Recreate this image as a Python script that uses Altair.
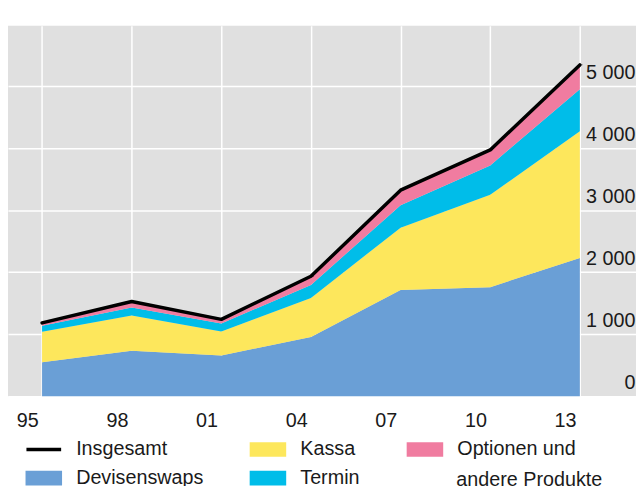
import altair as alt
import pandas as pd

years = [1995, 1998, 2001, 2004, 2007, 2010, 2013]
devisenswaps = [546, 734, 656, 954, 1714, 1759, 2228]
kassa = [494, 568, 386, 631, 1005, 1489, 2046]
termin = [97, 128, 130, 209, 362, 475, 680]
optionen = [45, 97, 67, 140, 243, 250, 391]
insgesamt = [1182, 1527, 1239, 1934, 3324, 3973, 5345]

stack_series = ["Devisenswaps", "Kassa", "Termin", "Optionen und andere Produkte"]
stack_values = [devisenswaps, kassa, termin, optionen]

legend_order = ["Insgesamt", "Kassa", "Optionen und andere Produkte", "Devisenswaps", "Termin"]
legend_colors = ["#000000", "#fde75c", "#f07ca0", "#6a9fd6", "#00bde9"]
LINE_SYM = "M-0.9,-0.19H2.9V0.19H-0.9Z"
RECT_SYM = "M-1,-0.8H3V0.8H-1Z"
legend_shapes = [LINE_SYM, RECT_SYM, RECT_SYM, RECT_SYM, RECT_SYM]

y_ticks = [0, 1000, 2000, 3000, 4000, 5000]

rows = []
for rank, (name, vals) in enumerate(zip(stack_series, stack_values)):
    for yr, v in zip(years, vals):
        rows.append({"year": yr, "series": name, "value": v, "rank": rank})
df_area = pd.DataFrame(rows)
df_total = pd.DataFrame({"year": years, "value": insgesamt, "series": ["Insgesamt"] * len(years)})

FONT = "Liberation Sans"
TXT = "#1a1a1a"

common_legend = dict(
    title=None,
    orient="none",
    direction="horizontal",
    symbolSize=342,
    symbolStrokeWidth=0,
    labelFontSize=20,
    labelFont=FONT,
    labelColor=TXT,
    labelOffset=32,
    labelLimit=400,
    labelBaseline="middle",
)

legend = alt.Legend(
    legendX=17,
    legendY=419,
    columns=3,
    columnPadding=46,
    rowPadding=9,
    symbolOpacity=1,
    labelExpr="datum.label == 'Optionen und andere Produkte' ? 'Optionen und' : datum.label",
    **common_legend,
)

# second line of the wrapped legend label "Optionen und / andere Produkte"
legend_cont = alt.Legend(
    legendX=402,
    legendY=450,
    symbolType=RECT_SYM,
    symbolOpacity=0,
    labelExpr="'andere Produkte'",
    **common_legend,
)

fill_enc = alt.Fill(
    "series:N",
    scale=alt.Scale(domain=legend_order, range=legend_colors),
    legend=legend,
)
shape_enc = alt.Shape(
    "series:N",
    scale=alt.Scale(domain=legend_order, range=legend_shapes),
    legend=legend,
)
stroke_enc = alt.Stroke(
    "series:N",
    scale=alt.Scale(domain=["Optionen und andere Produkte"], range=["transparent"]),
    legend=legend_cont,
)

x_enc = alt.X(
    "year:Q",
    scale=alt.Scale(domain=[1993.86, 2014.88], nice=False, zero=False),
    axis=alt.Axis(
        values=years,
        labelExpr="substring(toString(datum.value), 2)",
        grid=True,
        gridColor="#ffffff",
        gridWidth=1.5,
        domain=False,
        ticks=False,
        labelFontSize=20,
        labelFont=FONT,
        labelColor=TXT,
        labelPadding=15,
        labelOffset=-15,
        labelFlush=False,
        title=None,
    ),
)

y_axis = alt.Axis(
    orient="right",
    values=y_ticks,
    labelExpr="replace(format(datum.value, ','), ',', ' ')",
    grid=True,
    gridColor="#ffffff",
    gridWidth=1.5,
    domain=False,
    ticks=False,
    labelFontSize=20,
    labelFont=FONT,
    labelColor=TXT,
    labelAlign="right",
    labelBaseline="alphabetic",
    labelPadding=-1,
    labelOffset=-8,
    labelFlush=False,
    title=None,
)

area = alt.Chart(df_area).mark_area(opacity=1).encode(
    x=x_enc,
    y=alt.Y("value:Q", stack="zero", scale=alt.Scale(domain=[0, 5975], nice=False), axis=y_axis),
    fill=fill_enc,
    order=alt.Order("rank:Q"),
)

pts = alt.Chart(df_total).mark_point(filled=True, opacity=1, size=4, strokeWidth=0).encode(
    x=x_enc,
    y=alt.Y("value:Q"),
    fill=fill_enc,
    shape=shape_enc,
    stroke=stroke_enc,
)

line = alt.Chart(df_total).mark_line(
    color="#000000", strokeWidth=3.5, strokeCap="round", strokeJoin="round"
).encode(
    x=x_enc,
    y=alt.Y("value:Q"),
)

chart = (
    alt.layer(area, pts, line)
    .properties(width=636, height=375, padding={"left": 0, "top": 15, "right": 0, "bottom": 0})
    .configure(view={"fill": "#e0e0e0", "strokeWidth": 0})
)

chart.save("out.html", embed_options={"renderer": "svg", "actions": False})
